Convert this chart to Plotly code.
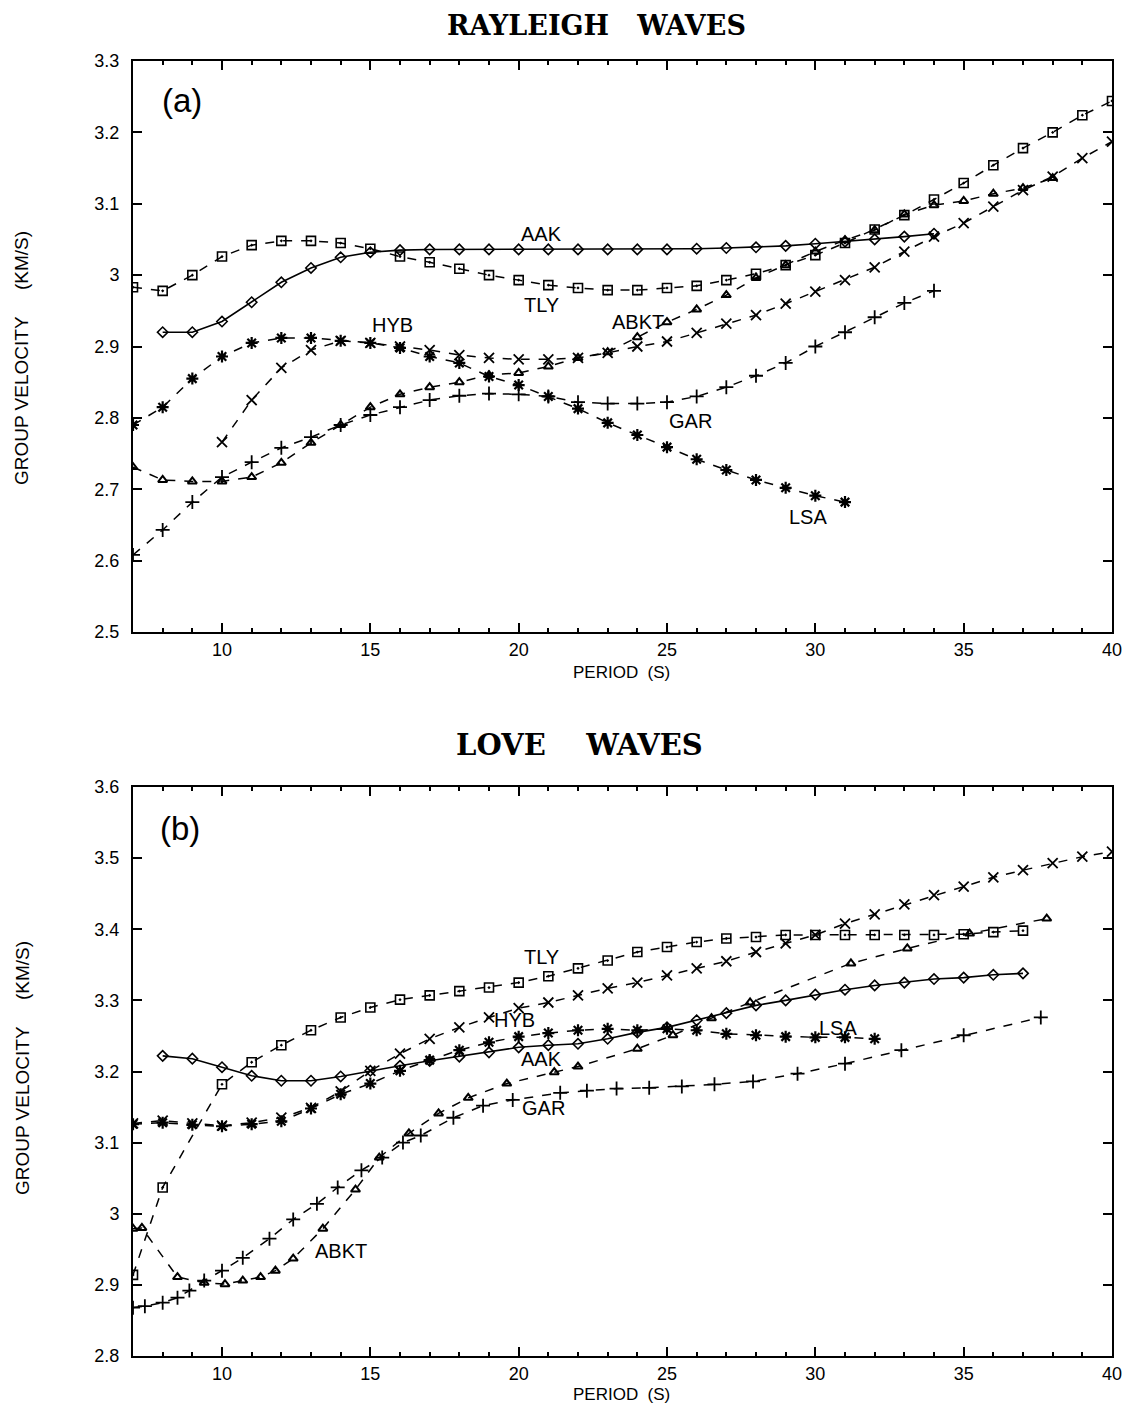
import plotly.graph_objects as go

# ---------------- Rayleigh waves (a) ----------------
r_aak_p = list(range(8, 35))
r_aak_v = [2.92, 2.92, 2.935, 2.962, 2.99, 3.01, 3.025, 3.032, 3.035, 3.036, 3.036, 3.036, 3.036,
           3.036, 3.036, 3.036, 3.036, 3.036, 3.037, 3.038, 3.039, 3.041, 3.044, 3.047, 3.050, 3.054, 3.058]
r_tly_p = list(range(7, 41))
r_tly_v = [2.983, 2.978, 3.0, 3.026, 3.042, 3.048, 3.048, 3.045, 3.037, 3.026, 3.018, 3.009, 3.0,
           2.993, 2.986, 2.982, 2.979, 2.979, 2.982, 2.985, 2.993, 3.002, 3.014, 3.028, 3.045, 3.064,
           3.084, 3.106, 3.129, 3.154, 3.178, 3.2, 3.224, 3.244]
r_hyb_p = list(range(10, 41))
r_hyb_v = [2.766, 2.825, 2.87, 2.895, 2.908, 2.905, 2.9, 2.895, 2.888, 2.884, 2.882, 2.882, 2.884,
           2.891, 2.9, 2.907, 2.919, 2.932, 2.944, 2.96, 2.977, 2.993, 3.011, 3.033, 3.054, 3.073,
           3.096, 3.119, 3.138, 3.164, 3.187]
r_abkt_p = list(range(7, 39))
r_abkt_v = [2.731, 2.713, 2.711, 2.711, 2.717, 2.737, 2.765, 2.79, 2.815, 2.833, 2.843, 2.85, 2.86,
            2.863, 2.872, 2.884, 2.892, 2.913, 2.934, 2.952, 2.972, 2.996, 3.014, 3.033, 3.049, 3.063,
            3.085, 3.098, 3.104, 3.114, 3.122, 3.136]
r_gar_p = list(range(7, 35))
r_gar_v = [2.608, 2.643, 2.682, 2.717, 2.738, 2.758, 2.773, 2.79, 2.804, 2.815, 2.825, 2.831, 2.834,
           2.833, 2.83, 2.822, 2.82, 2.82, 2.822, 2.83, 2.843, 2.859, 2.877, 2.9, 2.92, 2.941, 2.961, 2.978]
r_lsa_p = list(range(7, 32))
r_lsa_v = [2.79, 2.815, 2.855, 2.886, 2.905, 2.912, 2.912, 2.908, 2.905, 2.898, 2.886, 2.877, 2.858,
           2.846, 2.83, 2.813, 2.793, 2.776, 2.759, 2.742, 2.727, 2.713, 2.702, 2.691, 2.682]

# ---------------- Love waves (b) ----------------
l_aak_p = list(range(8, 38))
l_aak_v = [3.222, 3.218, 3.206, 3.194, 3.187, 3.187, 3.193, 3.201, 3.208, 3.215, 3.221, 3.227, 3.234,
           3.237, 3.239, 3.246, 3.255, 3.262, 3.272, 3.282, 3.293, 3.3, 3.308, 3.315, 3.321, 3.325,
           3.33, 3.332, 3.336, 3.338]
l_tly_p = [7, 8] + list(range(10, 38))
l_tly_v = [2.914, 3.037, 3.182, 3.213, 3.237, 3.258, 3.276, 3.29, 3.301, 3.307, 3.313, 3.318, 3.325,
           3.334, 3.345, 3.356, 3.368, 3.375, 3.382, 3.387, 3.389, 3.392, 3.392, 3.392, 3.392, 3.392,
           3.392, 3.393, 3.396, 3.398]
l_hyb_p = list(range(7, 41))
l_hyb_v = [3.127, 3.131, 3.127, 3.124, 3.128, 3.135, 3.149, 3.172, 3.201, 3.225, 3.246, 3.262, 3.276,
           3.289, 3.297, 3.307, 3.317, 3.325, 3.335, 3.345, 3.355, 3.368, 3.38, 3.392, 3.408, 3.421,
           3.435, 3.448, 3.46, 3.473, 3.483, 3.493, 3.502, 3.509]
l_abkt_p = [7.0, 7.3, 8.5, 9.4, 10.1, 10.7, 11.3, 11.8, 12.4, 13.4, 14.5, 15.3, 16.3, 17.3, 18.3,
            19.6, 21.2, 22.0, 24.0, 25.2, 26.5, 27.8, 31.2, 33.1, 35.2, 37.8]
l_abkt_v = [2.979, 2.98, 2.911, 2.903, 2.901, 2.906, 2.911, 2.92, 2.937, 2.979, 3.034, 3.079, 3.113,
            3.141, 3.163, 3.183, 3.199, 3.207, 3.232, 3.251, 3.275, 3.297, 3.352, 3.373, 3.394, 3.415]
l_gar_p = [7.0, 7.4, 8.0, 8.5, 8.9, 9.4, 10.0, 10.7, 11.6, 12.4, 13.2, 13.9, 14.7, 15.4, 16.1, 16.7,
           17.8, 18.8, 19.8, 21.4, 22.3, 23.3, 24.4, 25.5, 26.6, 27.9, 29.4, 31.0, 32.9, 35.0, 37.6]
l_gar_v = [2.868, 2.87, 2.875, 2.882, 2.892, 2.906, 2.92, 2.938, 2.965, 2.992, 3.014, 3.037, 3.061,
           3.079, 3.1, 3.11, 3.135, 3.152, 3.16, 3.17, 3.173, 3.176, 3.177, 3.179, 3.182, 3.186, 3.197,
           3.211, 3.23, 3.251, 3.276]
l_lsa_p = list(range(7, 33))
l_lsa_v = [3.126, 3.128, 3.125, 3.123, 3.126, 3.13, 3.148, 3.168, 3.183, 3.201, 3.216, 3.23, 3.241,
           3.249, 3.254, 3.258, 3.26, 3.258, 3.26, 3.258, 3.253, 3.251, 3.249, 3.248, 3.248, 3.246]

x_ticks = [10, 15, 20, 25, 30, 35, 40]

# label positions (period, velocity)
r_labels = [("AAK", 20.78, 3.058), ("TLY", 20.78, 2.958), ("HYB", 15.75, 2.93),
            ("ABKT", 24.03, 2.934), ("GAR", 25.8, 2.796), ("LSA", 29.74, 2.661)]
l_labels = [("TLY", 20.78, 3.361), ("HYB", 19.87, 3.272), ("AAK", 20.78, 3.218),
            ("GAR", 20.85, 3.149), ("LSA", 30.75, 3.261), ("ABKT", 14.0, 2.948)]

styles = {
    "AAK": dict(line=dict(color="black", width=1.6, dash="solid"),
                marker=dict(symbol="diamond-open", size=8, color="black", line=dict(width=1.6))),
    "TLY": dict(line=dict(color="black", width=1.5, dash="dash"),
                marker=dict(symbol="square-open-dot", size=9, color="black", line=dict(width=1.6))),
    "HYB": dict(line=dict(color="black", width=1.5, dash="dash"),
                marker=dict(symbol="x-thin-open", size=10, color="black", line=dict(width=1.8))),
    "ABKT": dict(line=dict(color="black", width=1.5, dash="dash"),
                 marker=dict(symbol="triangle-up-open", size=8, color="black", line=dict(width=2))),
    "GAR": dict(line=dict(color="black", width=1.5, dash="dash"),
                marker=dict(symbol="cross-thin-open", size=10, color="black", line=dict(width=1.8))),
    "LSA": dict(line=dict(color="black", width=1.5, dash="dash"),
                marker=dict(symbol="asterisk-open", size=10, color="black", line=dict(width=2.2))),
}

fig = go.Figure()

def add_series(name, p, v, xa, ya):
    fig.add_trace(go.Scatter(x=p, y=v, mode="lines+markers", name=name, xaxis=xa, yaxis=ya,
                             showlegend=False, **styles[name]))

for name, p, v in [("AAK", r_aak_p, r_aak_v), ("TLY", r_tly_p, r_tly_v), ("HYB", r_hyb_p, r_hyb_v),
                   ("ABKT", r_abkt_p, r_abkt_v), ("GAR", r_gar_p, r_gar_v), ("LSA", r_lsa_p, r_lsa_v)]:
    add_series(name, p, v, "x", "y")
for name, p, v in [("AAK", l_aak_p, l_aak_v), ("TLY", l_tly_p, l_tly_v), ("HYB", l_hyb_p, l_hyb_v),
                   ("ABKT", l_abkt_p, l_abkt_v), ("GAR", l_gar_p, l_gar_v), ("LSA", l_lsa_p, l_lsa_v)]:
    add_series(name, p, v, "x2", "y2")

W, H = 1131.0, 1403.0
L, R = 133, 19
PW = W - L - R

def px_x(px):
    return (px - L) / PW

def px_y(py):
    return 1 - py / H

tick_font = dict(family="Liberation Sans, Arial", size=18, color="black")
axis_common = dict(showline=True, linecolor="black", linewidth=2, mirror="ticks", ticks="inside",
                   ticklen=9, tickwidth=1.5, tickcolor="black", showgrid=False, zeroline=False,
                   automargin=False, tickfont=tick_font)
xaxis_common = dict(axis_common, range=[7, 40], tickvals=x_ticks, ticklabelstandoff=0,
                    minor=dict(dtick=1, tick0=0, ticks="inside", ticklen=4, tickcolor="black", showgrid=False))
yaxis_common = dict(axis_common, dtick=0.1, ticklabelstandoff=8)

fig.update_layout(
    width=1131, height=1403, paper_bgcolor="white", plot_bgcolor="white",
    margin=dict(l=L, r=R, t=0, b=0, autoexpand=False),
    xaxis=dict(xaxis_common, domain=[0, 1], anchor="y"),
    yaxis=dict(yaxis_common, range=[2.5, 3.3], tick0=2.5, anchor="x",
               domain=[px_y(632), px_y(61)]),
    xaxis2=dict(xaxis_common, domain=[0, 1], anchor="y2"),
    yaxis2=dict(yaxis_common, range=[2.8, 3.6], tick0=2.8, anchor="x2",
                domain=[px_y(1356), px_y(787)]),
)

lab_font = dict(family="Liberation Sans, Arial", size=20, color="black")
ann = []

def note(text, x, y, xref, yref, font, angle=0):
    ann.append(dict(text=text, x=x, y=y, xref=xref, yref=yref, showarrow=False, font=font,
                    xanchor="center", yanchor="middle", textangle=angle))

for t, px, v in r_labels:
    note(t, px, v, "x", "y", lab_font)
for t, px, v in l_labels:
    note(t, px, v, "x2", "y2", lab_font)
big_font = dict(family="Liberation Sans, Arial", size=33, color="black")
note("(a)", 8.66, 3.245, "x", "y", big_font)
note("(b)", 8.59, 3.541, "x2", "y2", big_font)
title_font = dict(family="DejaVu Serif, Liberation Serif", size=27, color="black")
note("<b>RAYLEIGH&nbsp;&nbsp;&nbsp;WAVES</b>", px_x(596), px_y(25), "paper", "paper", title_font)
note("<b>LOVE&nbsp;&nbsp;&nbsp;&nbsp;WAVES</b>", px_x(579), px_y(745), "paper", "paper",
     dict(title_font, size=29))
ax_font = dict(family="Liberation Sans, Arial", size=19, color="black")
for yc in (358, 1068):
    note("GROUP VELOCITY&nbsp;&nbsp;&nbsp;&nbsp;&nbsp;(KM/S)", px_x(22), px_y(yc), "paper", "paper", ax_font, -90)
per_font = dict(family="Liberation Sans, Arial", size=17, color="black")
for yc in (672, 1394):
    note("PERIOD&nbsp;&nbsp;(S)", px_x(621), px_y(yc), "paper", "paper", per_font)
fig.update_layout(annotations=ann)

fig.write_html("out.html")
